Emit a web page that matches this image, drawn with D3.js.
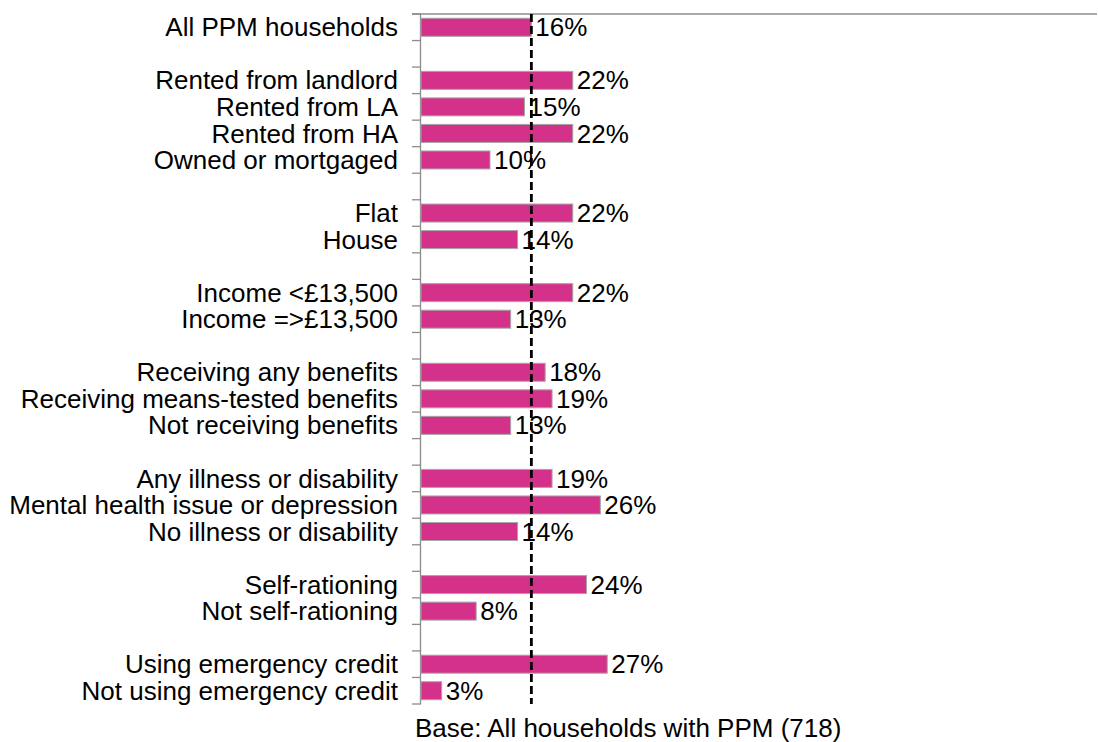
<!DOCTYPE html>
<html>
<head>
<meta charset="utf-8">
<script src="https://cdn.jsdelivr.net/npm/d3@7"></script>
<style>
  html, body { margin: 0; padding: 0; background: #fff; }
  svg { display: block; font-family: Arial, "Liberation Sans", sans-serif; }
</style>
</head>
<body>
<svg id="chart" width="1098" height="742"></svg>
<script>
// Row labels; empty entries are spacer rows between groups
const categories = [
  "All PPM households", "",
  "Rented from landlord", "Rented from LA", "Rented from HA", "Owned or mortgaged", "",
  "Flat", "House", "",
  "Income <£13,500", "Income =>£13,500", "",
  "Receiving any benefits", "Receiving means-tested benefits", "Not receiving benefits", "",
  "Any illness or disability", "Mental health issue or depression", "No illness or disability", "",
  "Self-rationing", "Not self-rationing", "",
  "Using emergency credit", "Not using emergency credit"
];
// Share of households (%), null for spacer rows
const values = [
  16, null,
  22, 15, 22, 10, null,
  22, 14, null,
  22, 13, null,
  18, 19, 13, null,
  19, 26, 14, null,
  24, 8, null,
  27, 3
];
const averageValue = 16;
const footnote = "Base: All households with PPM (718)";

const svg = d3.select("#chart");
const margin = { top: 14, left: 421, right: 1, bottom: 38 };
const W = 1098, H = 742;
const fontSize = 26;

const rows = categories.map((c, i) => ({ key: "r" + i, label: c, value: values[i] }));

const x = d3.scaleLinear().domain([0, 98]).range([margin.left, W - margin.right]);
const y = d3.scaleBand().domain(rows.map(d => d.key)).range([margin.top, H - margin.bottom]).paddingInner(0).paddingOuter(0);

const barH = 18;

// top border line
svg.append("line")
  .attr("x1", margin.left - 9).attr("x2", W - margin.right)
  .attr("y1", margin.top).attr("y2", margin.top)
  .attr("stroke", "#8c8c8c").attr("stroke-width", 1.3);

// left axis with boundary ticks
const yAxisG = svg.append("g");
yAxisG.append("line")
  .attr("x1", margin.left - 0.5).attr("x2", margin.left - 0.5)
  .attr("y1", margin.top).attr("y2", H - margin.bottom)
  .attr("stroke", "#8c8c8c").attr("stroke-width", 1.3);
const boundaries = rows.map(d => y(d.key)).concat([y.range()[1]]);
yAxisG.selectAll("line.tick").data(boundaries).enter().append("line")
  .attr("class", "tick")
  .attr("x1", margin.left - 9).attr("x2", margin.left)
  .attr("y1", d => d).attr("y2", d => d)
  .attr("stroke", "#8c8c8c").attr("stroke-width", 1.3);

// category labels
svg.append("g").selectAll("text").data(rows.filter(d => d.label)).enter().append("text")
  .attr("x", margin.left - 23)
  .attr("y", d => y(d.key) + y.bandwidth() / 2)
  .attr("dy", "0.35em")
  .attr("text-anchor", "end")
  .attr("font-size", fontSize)
  .attr("fill", "#000")
  .text(d => d.label);

// bars
const barRows = rows.filter(d => d.value != null);
svg.append("g").selectAll("rect").data(barRows).enter().append("rect")
  .attr("x", x(0))
  .attr("y", d => y(d.key) + (y.bandwidth() - barH) / 2)
  .attr("width", d => x(d.value) - x(0))
  .attr("height", barH)
  .attr("fill", "#d4328a")
  .attr("stroke", "#a6a6a6")
  .attr("stroke-width", 1);

// average reference line
svg.append("line")
  .attr("x1", x(averageValue)).attr("x2", x(averageValue))
  .attr("y1", margin.top).attr("y2", H - margin.bottom)
  .attr("stroke", "#000").attr("stroke-width", 2.8)
  .attr("stroke-dasharray", "8,4");

// value labels
svg.append("g").selectAll("text").data(barRows).enter().append("text")
  .attr("x", d => x(d.value) + 4)
  .attr("y", d => y(d.key) + y.bandwidth() / 2)
  .attr("dy", "0.35em")
  .attr("font-size", fontSize)
  .attr("fill", "#000")
  .text(d => d.value + "%");

// footnote
svg.append("text")
  .attr("x", 415).attr("y", 737)
  .attr("font-size", fontSize)
  .attr("fill", "#000")
  .text(footnote);
</script>
</body>
</html>
